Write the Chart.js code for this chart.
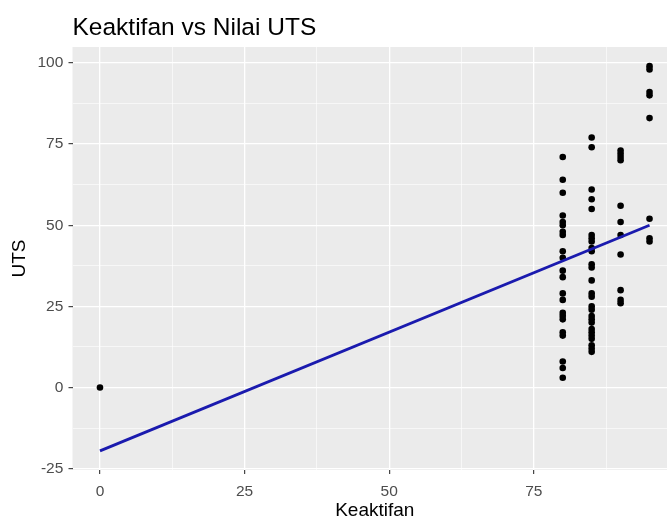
<!DOCTYPE html>
<html lang="id">
<head>
  <meta charset="UTF-8">
  <title>Keaktifan vs Nilai UTS</title>
  <script src="https://cdn.jsdelivr.net/npm/chart.js"></script>
  <style>
    html, body {
      margin: 0;
      padding: 0;
      background: #ffffff;
      overflow: hidden;
    }
    /* the reference is cropped on the right, so the canvas is a bit wider than the window */
    .chart-box {
      position: relative;
      width: 683px;
      height: 522px;
    }
  </style>
</head>
<body>
  <div class="chart-box"><canvas id="utsChart"></canvas></div>

  <script>
    // Keaktifan groups and the UTS scores for each group
    const groupX = [0, 80, 85, 90, 95];
    const utsAt0 = [0];
    const utsAt80 = [71, 64, 60, 53, 51, 50, 48, 47, 42, 40, 36, 34, 29, 27, 23, 22, 21, 17, 16, 8, 6, 3];
    const utsAt85 = [77, 74, 61, 58, 55, 47, 46, 45, 43, 42, 38, 37, 33, 29, 28, 25, 24, 22, 21, 20, 18, 17, 16, 15, 13, 12, 11];
    const utsAt90 = [73, 72, 71, 70, 56, 51, 47, 41, 30, 27, 26];
    const utsAt95 = [99, 98, 91, 90, 83, 52, 46, 45];

    // fitted line ends
    const fitX = [0, 95];
    const fitY = [-19.5, 50];

    // axis ticks (major get labels, minor only a thin grid line)
    const xTicks = [0, 25, 50, 75];
    const xMinor = [12.5, 37.5, 62.5, 87.5];
    const yTicks = [-25, 0, 25, 50, 75, 100];
    const yMinor = [-12.5, 12.5, 37.5, 62.5, 87.5];

    const groups = [utsAt0, utsAt80, utsAt85, utsAt90, utsAt95];
    const points = [];
    groups.forEach((vals, i) => {
      vals.forEach(v => points.push({ x: groupX[i], y: v }));
    });
    const fitLine = fitX.map((x, i) => ({ x: x, y: fitY[i] }));

    const FONT = "'Liberation Sans', Arial, sans-serif";

    // grey panel like ggplot
    const panelBg = {
      id: 'panelBg',
      beforeDraw(chart) {
        const a = chart.chartArea;
        const ctx = chart.ctx;
        ctx.save();
        ctx.fillStyle = '#EBEBEB';
        ctx.fillRect(a.left, a.top, a.right - a.left, a.bottom - a.top);
        ctx.restore();
      }
    };

    function gridFor(major) {
      return {
        color: '#FFFFFF',
        lineWidth: c => (c.tick && major.includes(c.tick.value)) ? 1.3 : 0.6,
        drawTicks: true,
        tickLength: 4,
        tickWidth: 1.1,
        tickColor: c => (c.tick && major.includes(c.tick.value)) ? '#333333' : 'rgba(0,0,0,0)'
      };
    }

    new Chart(document.getElementById('utsChart'), {
      type: 'scatter',
      data: {
        datasets: [
          {
            type: 'line',
            data: fitLine,
            borderColor: '#1A1AAE',
            borderWidth: 2.8,
            pointRadius: 0,
            fill: false,
            order: 0
          },
          {
            data: points,
            backgroundColor: '#000000',
            borderWidth: 0,
            pointRadius: 3.3,
            order: 1
          }
        ]
      },
      options: {
        responsive: true,
        maintainAspectRatio: false,
        animation: false,
        layout: { padding: { top: 0, right: 6, bottom: 0, left: 0 } },
        plugins: {
          legend: { display: false },
          tooltip: { enabled: false },
          title: {
            display: true,
            text: 'Keaktifan vs Nilai UTS',
            align: 'start',
            fullSize: false,
            color: '#000000',
            font: { family: FONT, size: 24.5, weight: 'normal', lineHeight: 1.2 },
            padding: { top: 14, bottom: 3.6 }
          }
        },
        scales: {
          x: {
            type: 'linear',
            min: -4.75,
            max: 99.75,
            afterBuildTicks: s => {
              s.ticks = xTicks.concat(xMinor).sort((a, b) => a - b).map(v => ({ value: v }));
            },
            afterFit: s => { s.height = 52; },
            border: { display: false },
            grid: gridFor(xTicks),
            ticks: {
              autoSkip: false,
              maxRotation: 0,
              padding: 8,
              color: '#4D4D4D',
              font: { family: FONT, size: 15.5 },
              callback: v => xTicks.includes(v) ? String(v) : ''
            },
            title: {
              display: true,
              text: 'Keaktifan',
              color: '#000000',
              font: { family: FONT, size: 19 },
              padding: { top: 0, bottom: 0 }
            }
          },
          y: {
            type: 'linear',
            min: -25.4,
            max: 104.9,
            afterBuildTicks: s => {
              s.ticks = yTicks.concat(yMinor).sort((a, b) => a - b).map(v => ({ value: v }));
            },
            afterFit: s => { s.width = 72.5; },
            border: { display: false },
            grid: gridFor(yTicks),
            ticks: {
              autoSkip: false,
              padding: 5.2,
              color: '#4D4D4D',
              font: { family: FONT, size: 15.5 },
              callback: v => yTicks.includes(v) ? String(v) : ''
            },
            title: {
              display: true,
              text: 'UTS',
              color: '#000000',
              font: { family: FONT, size: 19 },
              padding: { top: 8.5, bottom: 0 }
            }
          }
        }
      },
      plugins: [panelBg]
    });
  </script>
</body>
</html>
